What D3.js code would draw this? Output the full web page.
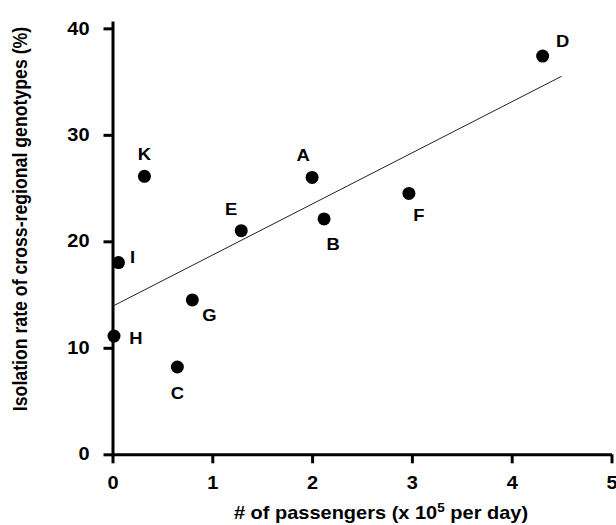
<!DOCTYPE html>
<html>
<head>
<meta charset="utf-8">
<script src="https://cdn.jsdelivr.net/npm/d3@7"></script>
<style>
  body { margin: 0; background: #fff; }
  text { font-family: "Liberation Sans", Arial, sans-serif; font-weight: bold; }
</style>
</head>
<body>
<div id="chart"></div>
<script>
// cities / sites
const labels = ['A', 'B', 'C', 'D', 'E', 'F', 'G', 'H', 'I', 'K'];
const passengers = [2.00, 2.12, 0.65, 4.31, 1.29, 2.97, 0.80, 0.015, 0.06, 0.32];
const isolationRate = [26.0, 22.1, 8.2, 37.4, 21.0, 24.5, 14.5, 11.1, 18.0, 26.1];
// where each letter sits relative to its dot
const labelDx = [-9, 9, 0, 20, -10, 10, 17, 22, 14, 0];
const labelDy = [-22, 25, 26, -15, -22, 22, 15, 2, -5, -22];

// fitted line, read at both ends
const fitX = [0, 4.5];
const fitY = [13.9, 35.5];

const xTicks = [0, 1, 2, 3, 4, 5];
const yTicks = [0, 10, 20, 30, 40];

const width = 616, height = 525;
const fontSize = 17.7;
const stretchX = 1.13; // text in the original looks a bit wide

const svg = d3.select('#chart').append('svg')
    .attr('width', width)
    .attr('height', height);

// widen a text around its own anchor point
function stretch(sel) {
    sel.each(function() {
        const t = d3.select(this);
        const x = +t.attr('x') || 0;
        const y = +t.attr('y') || 0;
        t.attr('transform', `translate(${x},${y}) scale(${stretchX},1) translate(${-x},${-y})`);
    });
}

const xScale = d3.scaleLinear()
    .domain([0, 5])
    .range([112.5, 611.5]);

const yScale = d3.scaleLinear()
    .domain([0, 40.7])
    .range([454.3, 20.9]);

// x axis
const xAxis = svg.append('g')
    .attr('transform', `translate(0,${yScale(0)})`)
    .call(d3.axisBottom(xScale)
        .tickValues(xTicks)
        .tickFormat(d3.format('d'))
        .tickSize(9)
        .tickSizeOuter(0)
        .tickPadding(13));

// y axis
const yAxis = svg.append('g')
    .attr('transform', `translate(${xScale(0)},0)`)
    .call(d3.axisLeft(yScale)
        .tickValues(yTicks)
        .tickFormat(d3.format('d'))
        .tickSize(9)
        .tickSizeOuter(0)
        .tickPadding(14));

[xAxis, yAxis].forEach(ax => {
    ax.select('.domain').attr('stroke', '#000').attr('stroke-width', 3);
    ax.selectAll('.tick line').attr('stroke', '#000').attr('stroke-width', 3);
    ax.selectAll('.tick text')
        .attr('fill', '#000')
        .style('font-size', fontSize + 'px')
        .style('font-family', '"Liberation Sans", Arial, sans-serif')
        .style('font-weight', 'bold')
        .call(stretch);
});

// regression line
const fit = fitX.map((x, i) => ({x: x, y: fitY[i]}));
svg.append('path')
    .datum(fit)
    .attr('fill', 'none')
    .attr('stroke', '#222')
    .attr('stroke-width', 1)
    .attr('d', d3.line()
        .x(d => xScale(d.x))
        .y(d => yScale(d.y)));

const points = labels.map((l, i) => ({
    label: l,
    x: passengers[i],
    y: isolationRate[i],
    dx: labelDx[i],
    dy: labelDy[i]
}));

// datapoints
svg.selectAll('circle.pt')
    .data(points)
    .enter()
    .append('circle')
    .attr('class', 'pt')
    .attr('cx', d => xScale(d.x))
    .attr('cy', d => yScale(d.y))
    .attr('r', 6.5)
    .attr('fill', '#000');

svg.selectAll('text.pt-label')
    .data(points)
    .enter()
    .append('text')
    .attr('class', 'pt-label')
    .attr('x', d => xScale(d.x) + d.dx)
    .attr('y', d => yScale(d.y) + d.dy)
    .attr('dy', '0.36em')
    .attr('text-anchor', 'middle')
    .style('font-size', '16.3px')
    .text(d => d.label)
    .call(stretch);

// axis titles
const xTitle = svg.append('text')
    .attr('x', 381)
    .attr('y', 519)
    .attr('text-anchor', 'middle')
    .style('font-size', fontSize + 'px');
xTitle.append('tspan').text('# of passengers (x 10');
xTitle.append('tspan').attr('dy', -7).style('font-size', '12px').text('5');
xTitle.append('tspan').attr('dy', 7).text(' per day)');
xTitle.call(stretch);

svg.append('text')
    .attr('transform', `translate(27,219) scale(${stretchX},1) rotate(-90)`)
    .attr('text-anchor', 'middle')
    .style('font-size', fontSize + 'px')
    .text('Isolation rate of cross-regional genotypes (%)');
</script>
</body>
</html>
